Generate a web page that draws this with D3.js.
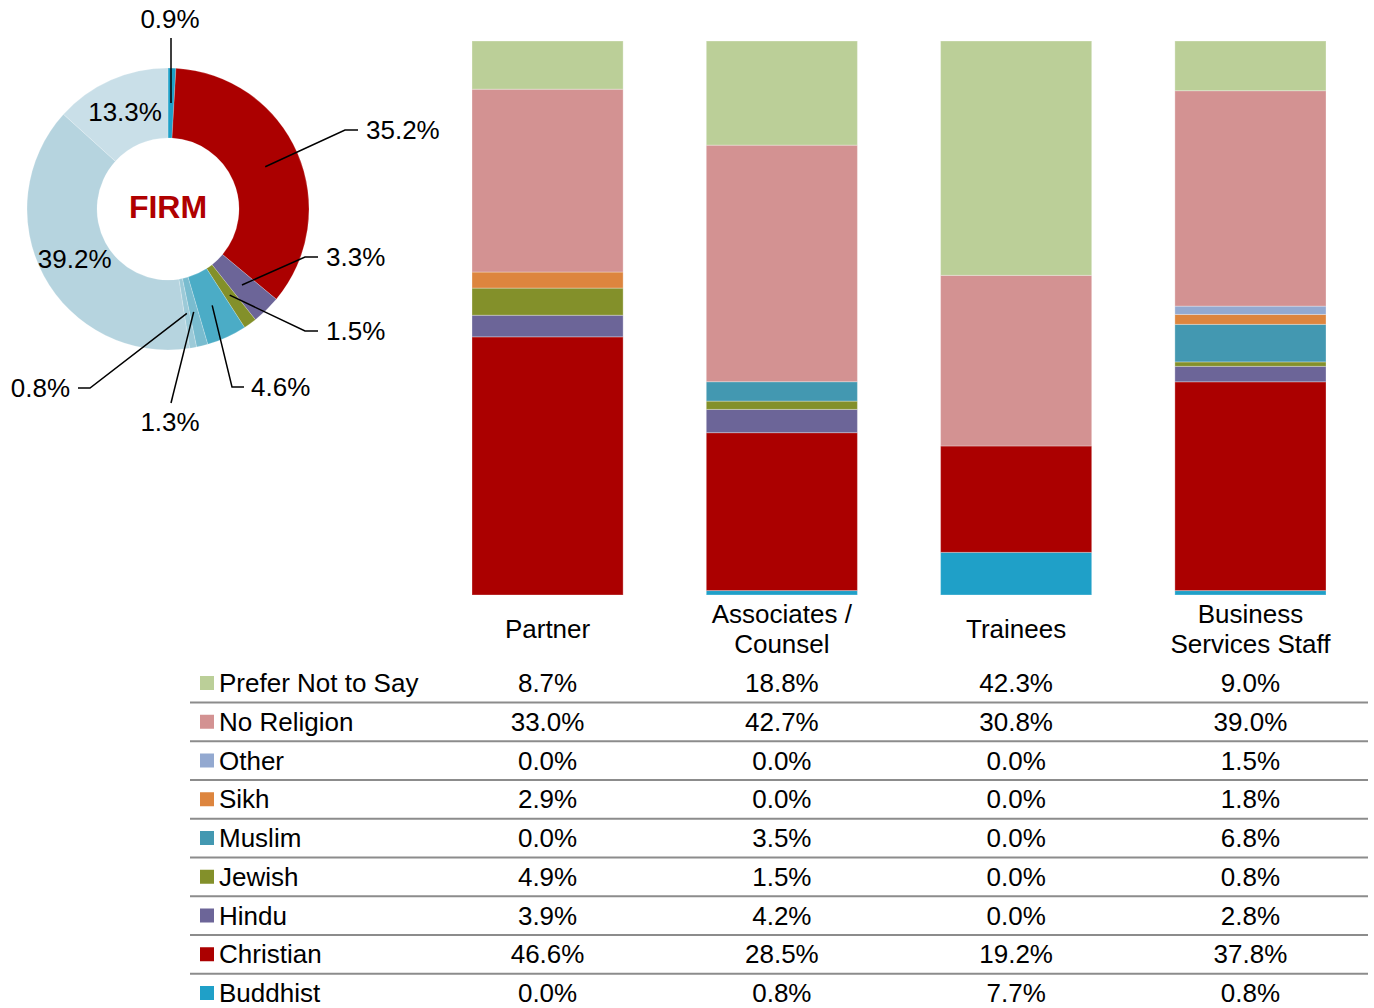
<!DOCTYPE html>
<html>
<head>
<meta charset="utf-8">
<title>Religion - Firm breakdown</title>
<style>
body { margin: 0; background: #fff; }
svg { font-family: "Liberation Sans", Arial, sans-serif; }
.lbl { font-size: 26px; fill: #000; }
</style>
<script src="https://d3js.org/d3.v7.min.js"></script>
</head>
<body>
<svg id="chart" width="1374" height="1008"></svg>
<script>
// series, listed bottom of stack first
var religions = ["Buddhist", "Christian", "Hindu", "Jewish", "Muslim", "Sikh", "Other", "No Religion", "Prefer Not to Say"];
var barColors = ["#1fa0c8", "#ab0000", "#6c6598", "#83902a", "#4398b1", "#dd853e", "#93a9d0", "#d39292", "#bbcf98"];

var groups = ["Partner", "Associates / Counsel", "Trainees", "Business Services Staff"];
var groupLines = [["Partner"], ["Associates /", "Counsel"], ["Trainees"], ["Business", "Services Staff"]];

// values per religion, one per group (percent)
var partner   = [0.0, 46.6, 3.9, 4.9, 0.0, 2.9, 0.0, 33.0, 8.7];
var associates = [0.8, 28.5, 4.2, 1.5, 3.5, 0.0, 0.0, 42.7, 18.8];
var trainees  = [7.7, 19.2, 0.0, 0.0, 0.0, 0.0, 0.0, 30.8, 42.3];
var business  = [0.8, 37.8, 2.8, 0.8, 6.8, 1.8, 1.5, 39.0, 9.0];

// firm totals for the donut, same order
var firm = [0.9, 35.2, 3.3, 1.5, 4.6, 1.3, 0.8, 39.2, 13.3];
var donutColors = ["#1fa0c8", "#ab0000", "#6c6598", "#83902a", "#4bacc6", "#79bccf", "#9ccad8", "#b6d4df", "#c9dfe8"];

var svg = d3.select("#chart");

// ---------- donut ----------
var cx = 168, cy = 209, rOuter = 141, rInner = 71;
var dg = svg.append("g").attr("transform", "translate(" + cx + "," + cy + ")");

var pie = d3.pie().sort(null).value(d => d);
var arcs = pie(firm);
var arc = d3.arc().innerRadius(rInner).outerRadius(rOuter);
var mid = d3.arc().innerRadius(106).outerRadius(106);

dg.selectAll("path.slice")
  .data(arcs)
  .join("path")
  .attr("class", "slice")
  .attr("d", arc)
  .attr("fill", (d, i) => donutColors[i])
  .attr("stroke", "rgba(255,255,255,0.25)")
  .attr("stroke-width", 0.8);

// label placement: inside, or leader to an elbow (relative to centre) then a short tail
var labelLayout = [
  {elbow: [3, -171], tail: 0, text: [2, -190], anchor: "middle"},
  {elbow: [177, -79], tail: 13, text: [198, -79], anchor: "start"},
  {elbow: [137, 48], tail: 13, text: [158, 48], anchor: "start"},
  {elbow: [137, 122], tail: 13, text: [158, 122], anchor: "start"},
  {elbow: [64, 178], tail: 12, text: [83, 178], anchor: "start"},
  {elbow: [3, 194], tail: 0, text: [2, 213], anchor: "middle"},
  {elbow: [-78, 179], tail: -12, text: [-98, 179], anchor: "end"},
  {inside: true},
  {inside: true}
];

arcs.forEach(function(a, i) {
  var L = labelLayout[i];
  var c = mid.centroid(a);
  var txt = firm[i].toFixed(1) + "%";
  if (L.inside) {
    dg.append("text").attr("class", "lbl")
      .attr("x", c[0]).attr("y", c[1] + 9)
      .attr("text-anchor", "middle").text(txt);
    return;
  }
  var pts = [c, L.elbow];
  if (L.tail) pts.push([L.elbow[0] + L.tail, L.elbow[1]]);
  dg.append("path")
    .attr("d", d3.line()(pts))
    .attr("fill", "none").attr("stroke", "#000").attr("stroke-width", 1.5);
  dg.append("text").attr("class", "lbl")
    .attr("x", L.text[0]).attr("y", L.text[1] + 9)
    .attr("text-anchor", L.anchor).text(txt);
});

dg.append("text")
  .attr("x", 0).attr("y", 9)
  .attr("text-anchor", "middle")
  .attr("font-size", 32).attr("font-weight", "bold")
  .attr("fill", "#b00000")
  .text("FIRM");

// ---------- stacked bars (100% stacked) ----------
var table = groups.map(function(g, gi) {
  var vals = [partner, associates, trainees, business][gi];
  var row = {group: g};
  religions.forEach(function(r, ri) { row[r] = vals[ri]; });
  return row;
});

var x = d3.scaleBand().domain(groups).range([472, 1326]).paddingInner(0.355).paddingOuter(0);
var y = d3.scaleLinear().domain([0, 1]).range([595, 41]);
var color = d3.scaleOrdinal().domain(religions).range(barColors);

var series = d3.stack().keys(religions).offset(d3.stackOffsetExpand)(table);

svg.append("g")
  .selectAll("g")
  .data(series)
  .join("g")
  .attr("fill", d => color(d.key))
  .selectAll("rect")
  .data(d => d.filter(p => p[1] - p[0] > 0))
  .join("rect")
  .attr("x", d => x(d.data.group))
  .attr("y", d => y(d[1]))
  .attr("height", d => y(d[0]) - y(d[1]))
  .attr("width", x.bandwidth())
  .attr("stroke", "rgba(255,255,255,0.3)")
  .attr("stroke-width", 1);

// category labels
var cat = svg.append("g");
groups.forEach(function(g, gi) {
  var lines = groupLines[gi];
  var x0 = x(g) + x.bandwidth() / 2;
  var base = lines.length == 1 ? 638 : 623;
  lines.forEach(function(l, li) {
    cat.append("text").attr("class", "lbl")
      .attr("x", x0).attr("y", base + li * 30)
      .attr("text-anchor", "middle").text(l);
  });
});

// ---------- data table ----------
var rowOrder = religions.slice().reverse();
var ry = d3.scalePoint().domain(rowOrder).range([683, 993]);
var tg = svg.append("g");

rowOrder.forEach(function(r, ri) {
  var yc = ry(r);
  var i = religions.indexOf(r);
  tg.append("rect")
    .attr("x", 200).attr("y", yc - 7)
    .attr("width", 14).attr("height", 14)
    .attr("fill", barColors[i]);
  tg.append("text").attr("class", "lbl")
    .attr("x", 219).attr("y", yc + 9).text(r);
  table.forEach(function(row) {
    tg.append("text").attr("class", "lbl")
      .attr("x", x(row.group) + x.bandwidth() / 2)
      .attr("y", yc + 9)
      .attr("text-anchor", "middle")
      .text(row[r].toFixed(1) + "%");
  });
  if (ri < rowOrder.length - 1) {
    tg.append("line")
      .attr("x1", 190).attr("x2", 1368)
      .attr("y1", yc + ry.step() / 2).attr("y2", yc + ry.step() / 2)
      .attr("stroke", "#8c8c8c").attr("stroke-width", 2);
  }
});
</script>
</body>
</html>
